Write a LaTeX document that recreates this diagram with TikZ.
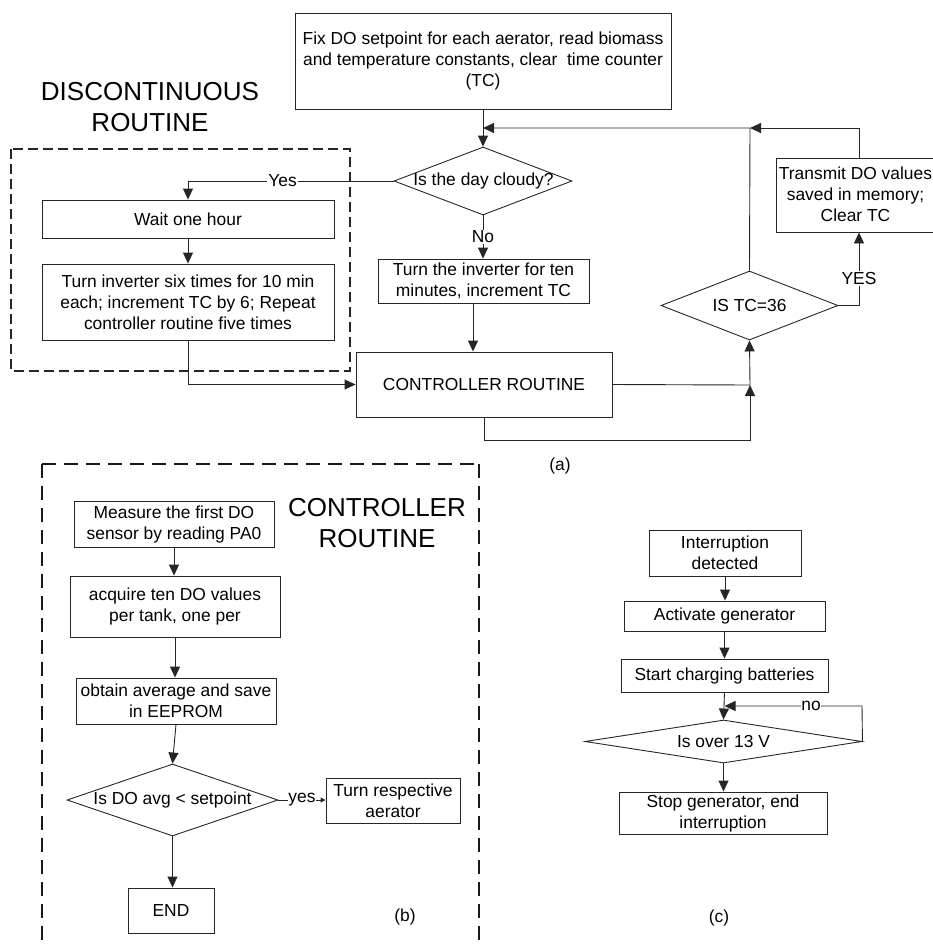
\documentclass[tikz,border=0pt]{standalone}
\usepackage{fontspec}
\setmainfont{Liberation Sans}
\usetikzlibrary{arrows.meta,shapes.geometric}
\newcommand\fsn{\fontsize{17.4}{21}\selectfont}
\newcommand\fsb{\fontsize{26}{31}\selectfont}
\begin{document}
\begin{tikzpicture}[x=1pt,y=-1pt,
  line/.style={draw=black!85, line width=0.9pt},
  arr/.style={line, -{Triangle[length=11pt,width=10pt]}},
  sarr/.style={line, -{Triangle[length=5pt,width=5pt]}},
  box/.style={draw=black!85, line width=0.9pt, inner sep=0pt, align=center, font=\fsn, text=black},
  dec/.style={draw=black!85, line width=0.9pt, diamond, inner sep=0pt},
  txt/.style={font=\fsn, inner sep=0pt, align=center},
  lbl/.style={font=\fsn, inner sep=1pt, fill=white},
  title/.style={font=\fsb, inner sep=0pt, align=center},
  dashA/.style={draw=black!85, line width=1.3pt, dash pattern=on 10pt off 5pt},
  dashB/.style={draw=black!90, line width=2pt, dash pattern=on 14pt off 8pt}]
\useasboundingbox (0,0) rectangle (933,946);

% ---------------- panel (a) ----------------
\node[box, minimum width=376pt, minimum height=96pt] (fix) at (483,61)
  {Fix DO setpoint for each aerator, read biomass\\and temperature constants, clear\ \ time counter\\(TC)};
\node[dec, minimum width=178pt, minimum height=68pt] (cloudy) at (483,181) {};
\node[txt] (cloudyt) at (483.5,181) {Is the day cloudy?};

\node[title] (disc) at (150,107) {DISCONTINUOUS\\ROUTINE};
\draw[dashA] (11,149) rectangle (350,371);

\node[box, minimum width=292pt, minimum height=38pt] (wait) at (188,219) {Wait one hour};
\node[box, minimum width=292pt, minimum height=76pt] (six) at (188,302)
  {Turn inverter six times for 10 min\\each; increment TC by 6; Repeat\\controller routine five times};
\node[box, minimum width=211pt, minimum height=44pt] (inv) at (483.5,281)
  {Turn the inverter for ten\\minutes, increment TC};
\node[box, minimum width=256pt, minimum height=65pt] (ctrl) at (484,384.5) {CONTROLLER ROUTINE};
\node[dec, minimum width=177pt, minimum height=69pt] (tc) at (749.5,305.5) {};
\node[txt] (tct) at (749.5,305.5) {IS TC=36};
\node[draw=black!85, line width=0.9pt, minimum width=166pt, minimum height=74pt, inner sep=0pt] (trans) at (859,195) {};
\node[txt] (transt) at (855.5,194) {Transmit DO values\\saved in memory;\\Clear TC};

\coordinate (j1) at (483,128);
\coordinate (j2) at (750,128);
\coordinate (j3) at (750,385);
\coordinate (j4) at (750,440);

\draw[arr] (fix.south) -- (cloudy.north);
\draw[arr] (tc.north) -- (j2) -- (j1);
\draw[arr] (trans.north) |- (j2);
\draw[arr] (cloudy.west) -| (wait.north) node[pos=0.27, lbl] {Yes};
\draw[arr] (wait) -- (six);
\draw[arr] (six.south) |- (ctrl.west);
\draw[arr] (cloudy.south) -- (cloudy.south |- inv.north) node[midway, lbl] {No};
\draw[arr] ([xshift=-10.5pt]inv.south) -- ([xshift=-10.5pt]inv.south |- ctrl.north);
\draw[line] (ctrl.east) -- (j3);
\draw[arr] (j3) -- (tc.south);
\draw[arr] (ctrl.south) |- (j4) -- (j3);
\draw[arr] (tc.east) -| (trans.south) node[pos=0.685, lbl] {YES};

\node[txt] (alabel) at (560,466) {(a)};

% ---------------- panel (b) ----------------
\draw[dashB] (42,464) -- (479,464);
\draw[dashB] (42,464) -- (42,960);
\draw[dashB] (479,464) -- (479,960);
\node[title] (ctitle) at (377,523.5) {CONTROLLER\\ROUTINE};

\node[box, minimum width=200pt, minimum height=46pt] (meas) at (174,524)
  {Measure the first DO\\sensor by reading PA0};
\node[box, minimum width=210pt, minimum height=61pt] (acq) at (175,606.5)
  {acquire ten DO values\\per tank, one per};
\node[box, minimum width=200pt, minimum height=46pt] (obt) at (176,701)
  {obtain average and save\\in EEPROM};
\node[dec, minimum width=211pt, minimum height=72pt] (dod) at (172.5,800) {};
\node[txt] (dodt) at (172.5,800) {Is DO avg < setpoint};
\node[box, minimum width=134pt, minimum height=45pt] (resp) at (393,800.5)
  {Turn respective\\aerator};
\node[box, minimum width=86pt, minimum height=45pt] (endb) at (171,910.5) {END};

\draw[arr] (meas.south) -- (meas.south |- acq.north);
\draw[arr] (acq.south) -- (acq.south |- obt.north);
\draw[arr] (obt.south) -- (dod.north);
\draw[sarr] (dod.east) -- (dod.east -| resp.west) node[midway, lbl, inner sep=0.5pt] {yes};
\draw[arr] (dod.south) -- (dod.south |- endb.north);

\node[txt] (blabel) at (405,917) {(b)};

% ---------------- panel (c) ----------------
\node[box, minimum width=152pt, minimum height=46pt] (intr) at (725,553)
  {Interruption\\detected};
\node[box, minimum width=201pt, minimum height=30pt] (act) at (724.5,616) {Activate generator};
\node[box, minimum width=207pt, minimum height=33pt] (start) at (724.5,675.5) {Start charging batteries};
\node[dec, minimum width=277pt, minimum height=43pt] (ov) at (723.5,741.5) {};
\node[txt] (ovt) at (723.5,741.5) {Is over 13 V};
\node[box, minimum width=208pt, minimum height=42pt] (stop) at (723,813)
  {Stop generator, end\\interruption};

\coordinate (nl) at (862,706);
\draw[arr] (intr.south) -- (intr.south |- act.north);
\draw[arr] (act.south) -- (act.south |- start.north);
\draw[arr] (start.south) -- (ov.north);
\draw[arr] (ov.east) -- (nl) -- (nl -| start.south) node[pos=0.37, lbl, inner sep=0.5pt] {no};
\draw[arr] (ov.south) -- (ov.south |- stop.north);

\node[txt] (clabel) at (719,918) {(c)};
\end{tikzpicture}
\end{document}
